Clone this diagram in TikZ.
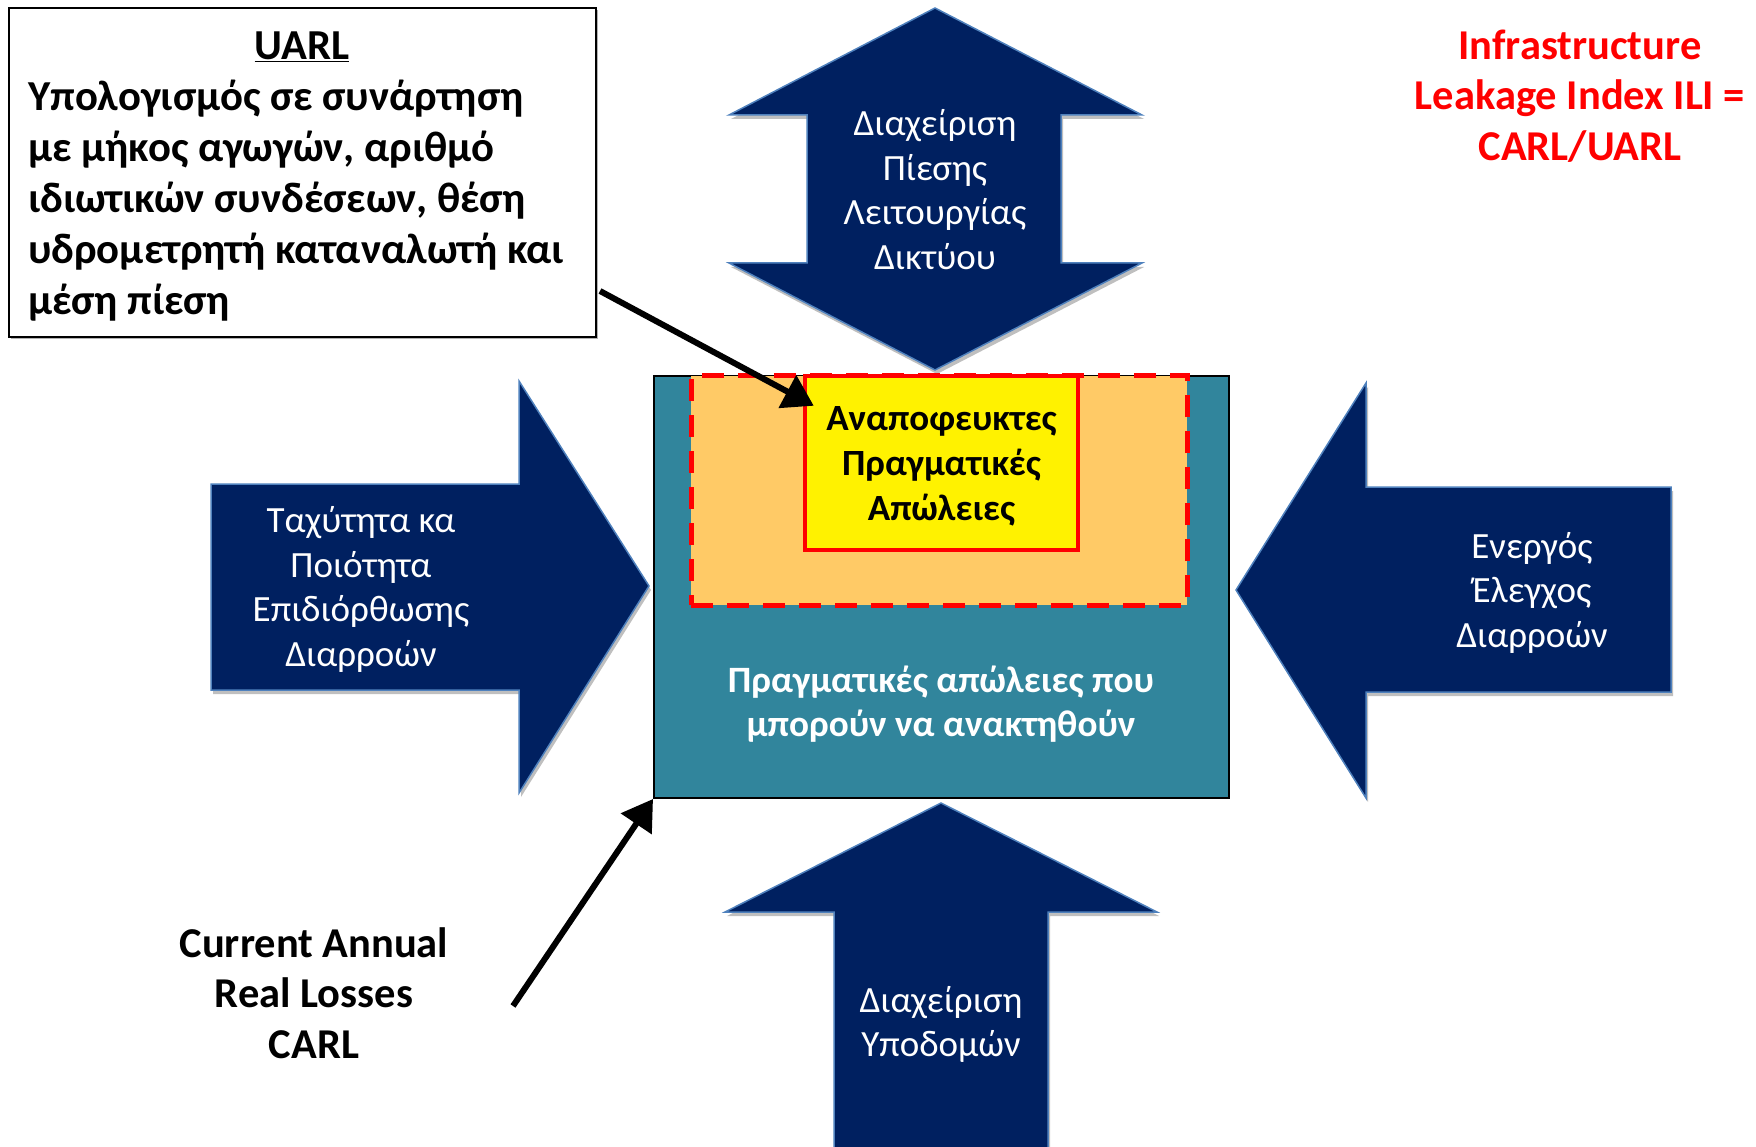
\documentclass[tikz,border=0pt]{standalone}
\usepackage{fontspec}
\setmainfont{Carlito}
\usetikzlibrary{arrows.meta,shadows,calc}
\definecolor{navy}{HTML}{002060}
\definecolor{navyedge}{HTML}{4F81BD}
\definecolor{tealbox}{HTML}{31859C}
\definecolor{orangefill}{HTML}{FFCA66}
\begin{document}
\begin{tikzpicture}[x=1pt,y=-1pt,
  bigarrow/.style={fill=navy, draw=navyedge, line width=1.5pt,
    drop shadow={shadow xshift=2pt, shadow yshift=-4pt, opacity=0.25, fill=black}},
  wtext/.style={text=white, align=center, font=\fontsize{37}{44.5}\selectfont},
  bigbold/.style={align=center, font=\bfseries\fontsize{42.5}{50.5}\selectfont},
  blackarrow/.style={line width=6pt, -{Triangle[length=30pt,width=36pt]}},
]
\useasboundingbox (0,0) rectangle (1756,1147);

% blue arrows
\path[bigarrow] (935,8) -- (1142,115) -- (1061,115) -- (1061,263) -- (1142,263) -- (935,370)
  -- (729,263) -- (807,263) -- (807,115) -- (729,115) -- cycle;
\node[wtext] (ttop) at (935,189.5) {Διαχείριση\\Πίεσης\\Λειτουργίας\\Δικτύου};

\path[bigarrow] (211,484) -- (519,484) -- (519,381) -- (649,586) -- (519,793) -- (519,690) -- (211,690) -- cycle;
\node[wtext] (tleft) at (361,589.5) {Ταχύτητα κα\\Ποιότητα\\Επιδιόρθωσης\\Διαρροών};

\path[bigarrow] (1236,590) -- (1366,383) -- (1366,487) -- (1671,487) -- (1671,692) -- (1366,692) -- (1366,798) -- cycle;
\node[wtext] (tright) at (1532,592.5) {Ενεργός\\Έλεγχος\\Διαρροών};

\path[bigarrow] (941,803) -- (1157,912) -- (1048,912) -- (1048,1165) -- (834,1165) -- (834,912) -- (725,912) -- cycle;
\node[wtext] (tbottom) at (941,1024.5) {Διαχείριση\\Υποδομών};

% central boxes
\node[draw=black, line width=2pt, fill=tealbox, minimum width=575pt, minimum height=422pt, inner sep=0pt] (teal) at (941.5,587) {};
\node[fill=orangefill, draw=red, line width=5pt, dash pattern=on 22pt off 14pt,
  minimum width=496pt, minimum height=229pt, inner sep=0pt] (orange) at (939,490.5) {};
\node[fill=yellow, draw=red, line width=4.5pt, minimum width=273pt, minimum height=174pt, inner sep=0pt] (yellow) at (941.5,463) {};
\node[align=center, font=\bfseries\fontsize{37}{45}\selectfont] (yellowtext) at (941.5,466.5) {Αναποφευκτες\\Πραγματικές\\Απώλειες};
\node[text=white, align=center, font=\bfseries\fontsize{37.2}{43.5}\selectfont] (tealtext) at (941,704)
  {Πραγματικές απώλειες που\\μπορούν να ανακτηθούν};

% UARL box
\node[draw=black, line width=1.3pt, fill=white, minimum width=587pt, minimum height=329pt, inner sep=0pt,
  drop shadow={shadow xshift=2pt, shadow yshift=-2pt, opacity=0.3, fill=black}] (uarl) at (302.5,172.5) {};
\node[font=\bfseries\fontsize{42.7}{51}\selectfont] (uarltitle) at (302,47) {\underline{UARL}};
\node[anchor=west, inner sep=0pt, align=left, font=\bfseries\fontsize{42.7}{51}\selectfont] (uarlbody) at (28,200.5)
  {Υπολογισμός σε συνάρτηση\\με μήκος αγωγών, αριθμό\\ιδιωτικών συνδέσεων, θέση\\υδρομετρητή καταναλωτή και\\μέση πίεση};

% red formula
\node[bigbold, text=red] (ili) at (1580,96) {Infrastructure\\Leakage Index ILI =\\CARL/UARL};

% CARL label
\node[bigbold] (carl) at (314,993) {Current Annual\\Real Losses\\CARL};

% pointer arrows
\coordinate (a1s) at (600,291);
\draw[blackarrow] (a1s) -- ($(yellow.north west)+(11,32)$);
\coordinate (a2s) at (513,1006);
\draw[blackarrow] (a2s) -- (teal.south west);
\end{tikzpicture}
\end{document}
